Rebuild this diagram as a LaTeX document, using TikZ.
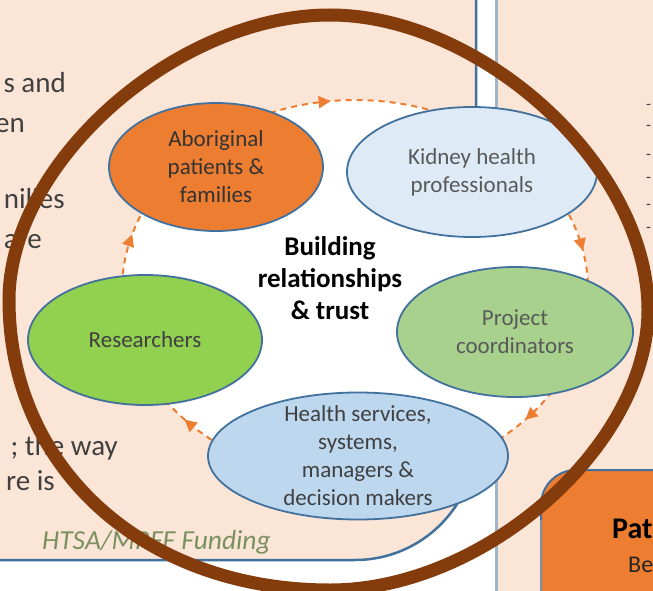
\documentclass[tikz,border=0pt]{standalone}
\usepackage{fontspec}
\setmainfont{Carlito}
\usetikzlibrary{shapes.geometric,arrows.meta,calc}
\definecolor{peach}{HTML}{FBE5D6}
\definecolor{boxorange}{HTML}{ED7D31}
\definecolor{edgeblue}{HTML}{41719C}
\definecolor{panelgrey}{HTML}{A2B4C8}
\definecolor{kidneyblue}{HTML}{DEEBF7}
\definecolor{healthblue}{HTML}{BDD7EE}
\definecolor{resgreen}{HTML}{92D050}
\definecolor{projgreen}{HTML}{A9D18E}
\definecolor{ringbrown}{HTML}{843C0C}
\definecolor{textgray}{HTML}{404040}
\definecolor{lightgray}{HTML}{595959}
\definecolor{fundgreen}{HTML}{7A9060}
\begin{document}
\begin{tikzpicture}[x=1pt,y=-1pt,
  blob/.style={ellipse, draw=edgeblue, line width=1.8pt, inner sep=0pt},
  etext/.style={font=\fontsize{23}{28}\selectfont, align=center, inner sep=0pt, text=textgray},
  lefttext/.style={font=\fontsize{29}{36}\selectfont, text=textgray, inner sep=0pt, anchor=base east},
  cyctip/.style={boxorange, line width=2pt, -{Triangle[length=12pt,width=12pt]}}]
\useasboundingbox (0,0) rectangle (653,591);
\clip (0,0) rectangle (653,591);
\fill[white] (0,0) rectangle (653,591);
% left panel
\fill[peach] (-10,-10) -- (476,-10) -- (476,439) arc[start angle=0,end angle=90,radius=121] -- (-10,560) -- cycle;
\draw[edgeblue, line width=2.5pt] (476,-10) -- (476,439) arc[start angle=0,end angle=90,radius=121] -- (-10,560);
% right panel
\fill[peach] (496,-10) rectangle (663,601);
\draw[panelgrey, line width=3pt] (496,-10) -- (496,601);
% orange box
\filldraw[fill=boxorange, draw=edgeblue, line width=2pt, rounded corners=35pt] (541,640) -- (541,470) -- (700,470) -- (700,640) -- cycle;
\draw[panelgrey!80!black, line width=2pt] (541,520) -- (541,601);
\node[font=\bfseries\fontsize{30}{30}\selectfont, anchor=base west, inner sep=0pt] (pat) at (612,538) {Pat};
\node[font=\fontsize{24}{24}\selectfont, anchor=base west, inner sep=0pt, text=black!85] (be) at (628,572) {Be};
% left panel texts
\node[lefttext] (l1) at (66,93) {s and};
\node[lefttext] (l2) at (25,132) {en};
\node[lefttext] (l3) at (65,208) {nilies};
\node[lefttext] (l4) at (42,248) {are};
\node[lefttext] (l5) at (118,455) {; the way};
\node[lefttext] (l6) at (55,490) {re is};
\node[font=\itshape\fontsize{27.5}{28}\selectfont, text=fundgreen, anchor=base west, inner sep=0pt] (fund) at (42,549) {HTSA/MRFF Funding};
% right panel fragments
\foreach \yy/\nm in {107/r1,128/r2,157/r3,180/r4,207/r5,230/r6}
  \node[font=\fontsize{16}{16}\selectfont, text=textgray, anchor=west, inner sep=0pt] (\nm) at (646,\yy) {-};
% cycle
\coordinate (cyc) at (355,290);
\filldraw[fill=white, draw=boxorange, line width=2pt, dash pattern=on 6pt off 5pt] (cyc) ellipse[x radius=233, y radius=190];
\foreach \t in {264,348,43,137,197}
  \draw[cyctip] ($(cyc)+(\t-1:233 and 190)$) -- ($(cyc)+(\t:233 and 190)$);
% ellipses
\node[blob, fill=boxorange, minimum width=214pt, minimum height=128pt] (abo) at (216,167) {};
\node[etext, text=black!80] (aboT) at (abo.center) {Aboriginal\\patients \&\\families};
\node[blob, fill=kidneyblue, minimum width=250pt, minimum height=130pt] (kid) at (472,172) {};
\node[etext, text=lightgray] (kidT) at (kid.center) {Kidney health\\professionals};
\node[blob, fill=resgreen, minimum width=234pt, minimum height=130pt] (res) at (145,340) {};
\node[etext] (resT) at (res.center) {Researchers};
\node[blob, fill=projgreen, minimum width=236pt, minimum height=130pt] (proj) at (515,332) {};
\node[etext, text=lightgray] (projT) at (proj.center) {Project\\coordinators};
\node[blob, fill=healthblue, minimum width=300pt, minimum height=127pt] (hea) at (358,456) {};
\node[etext] (heaT) at (hea.center) {Health services,\\systems,\\managers \&\\decision makers};
% centre
\node[font=\bfseries\fontsize{27}{32}\selectfont, align=center, inner sep=0pt] (ctr) at (330,278) {Building\\relationships\\\& trust};
% ring
\draw[ringbrown, line width=13pt] (330,15) .. controls (480,15) and (648,165) .. (648,310)
  .. controls (648,445) and (485,590) .. (330,590)
  .. controls (144,590) and (9,468) .. (9,300)
  .. controls (9,163) and (176,15) .. cycle;
\end{tikzpicture}
\end{document}
